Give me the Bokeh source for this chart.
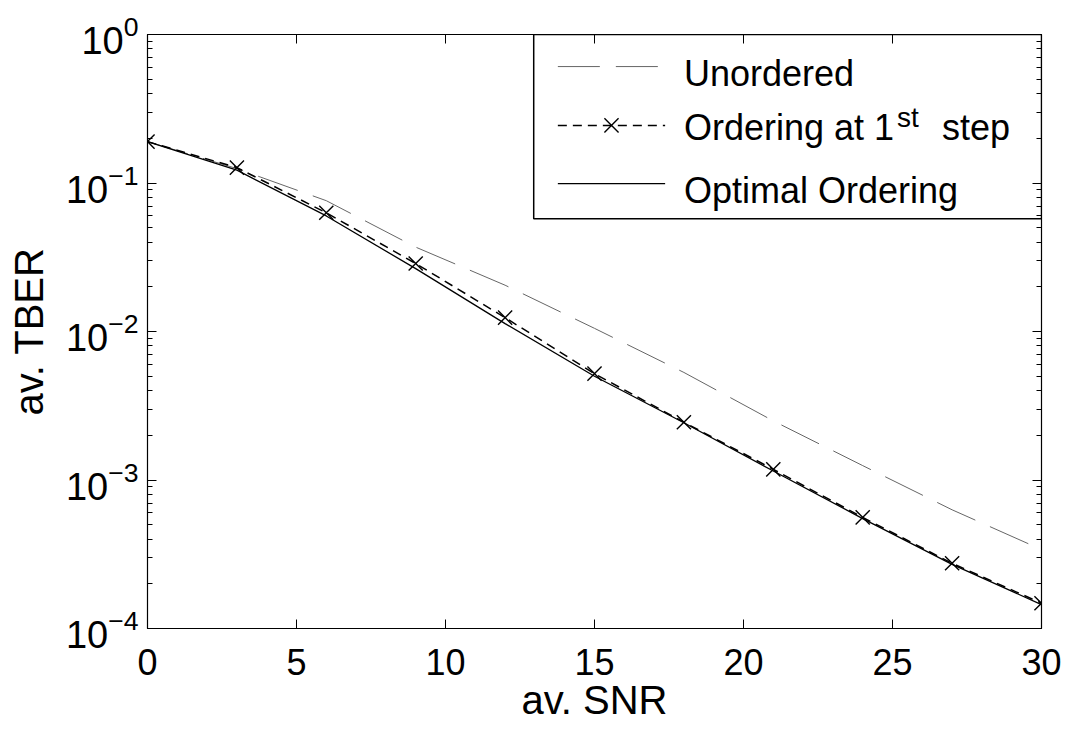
import numpy as np
from bokeh.plotting import figure
from bokeh.models import (Range1d, FixedTicker, LinearAxis, LogAxis, LogTicker,
                          BoxAnnotation, Label, CustomJSTickFormatter)
from bokeh.embed import file_html
from bokeh.resources import INLINE

# Average SNR (dB) at which each scheme was simulated
snr = [0, 3, 6, 9, 12, 15, 18, 21, 24, 27, 30]

# Average total bit error rate for each detection ordering
ber_unordered = [0.19, 0.125, 0.076, 0.037, 0.0205, 0.0105, 0.0053, 0.0025, 0.00125, 0.00063, 0.00034]
ber_first_step = [0.19, 0.127, 0.063, 0.0287, 0.0124, 0.0052, 0.00245, 0.00118, 0.00056, 0.000275, 0.000148]
ber_optimal = [0.19, 0.122, 0.060, 0.0265, 0.0113, 0.0050, 0.00243, 0.00115, 0.00055, 0.00027, 0.000145]

x_ticks = [0, 5, 10, 15, 20, 25, 30]
x_lim = (0, 30)
y_lim = (1e-4, 1)

series_names = ["Unordered", "Ordering at 1", "Optimal Ordering"]

FONT = "Liberation Sans"

p = figure(width=1068, height=733,
           x_range=Range1d(*x_lim), y_range=Range1d(*y_lim),
           y_axis_type="log", output_backend="svg", toolbar_location=None,
           min_border_left=147, min_border_right=27,
           min_border_top=34, min_border_bottom=105,
           background_fill_color="white", border_fill_color="white")
p.grid.visible = False
p.outline_line_color = "black"
p.outline_line_width = 1.2

# bottom / left axes
xa = p.xaxis[0]
xa.ticker = FixedTicker(ticks=x_ticks)
xa.axis_label = "av. SNR"
ya = p.yaxis[0]
ya.ticker = LogTicker(num_minor_ticks=10)
ya.axis_label = "av. TBER"

for ax in (xa, ya):
    ax.axis_line_color = "black"
    ax.major_tick_in = 9
    ax.major_tick_out = 0
    ax.minor_tick_in = 5
    ax.minor_tick_out = 0
    ax.major_tick_line_color = "black"
    ax.minor_tick_line_color = "black"
    ax.major_label_text_font = FONT
    ax.major_label_text_color = "black"
    ax.axis_label_text_font = FONT
    ax.axis_label_text_font_size = "40px"
    ax.axis_label_text_font_style = "normal"
    ax.axis_label_text_color = "black"
xa.major_label_text_font_size = "36px"
ya.major_label_text_font_size = "38px"
xa.major_label_standoff = 20
xa.axis_label_standoff = 0
ya.major_label_standoff = 9
ya.axis_label_standoff = 12

# mirrored tick marks on the top and right edges of the box
blank = CustomJSTickFormatter(code="return ''")
top = LinearAxis(ticker=FixedTicker(ticks=x_ticks), formatter=blank,
                 major_tick_in=9, major_tick_out=0, minor_tick_line_color=None,
                 axis_line_color="black", major_label_standoff=0)
right = LogAxis(ticker=LogTicker(num_minor_ticks=10), formatter=blank,
                major_tick_in=9, major_tick_out=0, minor_tick_in=5, minor_tick_out=0,
                axis_line_color="black", major_label_standoff=0)
p.add_layout(top, "above")
p.add_layout(right, "right")

# curves
p.line(snr, ber_unordered, line_color="#666666", line_width=1.0, line_dash="42 16")
p.line(snr, ber_first_step, line_color="black", line_width=1.5, line_dash="9 6")
p.scatter(snr, ber_first_step, marker="x", size=20, line_color="black", line_width=1.4)
p.line(snr, ber_optimal, line_color="black", line_width=1.3)

# legend, placed by fractions of the plotting frame
def fx(f):
    return x_lim[0] + f * (x_lim[1] - x_lim[0])

def fy(f_from_top):
    lo, hi = np.log10(y_lim[0]), np.log10(y_lim[1])
    return 10 ** (hi - f_from_top * (hi - lo))

p.add_layout(BoxAnnotation(left=fx(0.432), right=fx(1.0), top=fy(0.0), bottom=fy(0.31),
                           fill_color="white", fill_alpha=1.0,
                           line_color="black", line_alpha=1.0, line_width=1.5,
                           level="underlay"))

row_line = [0.054, 0.153, 0.251]
row_text = [0.066, 0.157, 0.262]
sx0, sx1, tx = fx(0.459), fx(0.579), fx(0.600)
styles = [dict(line_color="#666666", line_width=1.0, line_dash="42 16"),
          dict(line_color="black", line_width=1.5, line_dash="9 6"),
          dict(line_color="black", line_width=1.3)]
for i, st in enumerate(styles):
    p.line([sx0, sx1], [fy(row_line[i])] * 2, **st)
    p.add_layout(Label(x=tx, y=fy(row_text[i]), text=series_names[i], text_font=FONT,
                       text_font_size="36px", text_baseline="middle", text_color="black"))
p.scatter([(sx0 + sx1) / 2], [fy(row_line[1])], marker="x", size=20,
          line_color="black", line_width=1.4)
p.add_layout(Label(x=tx, y=fy(row_text[1]), x_offset=213, y_offset=10, text="st",
                   text_font=FONT, text_font_size="28px", text_baseline="middle",
                   text_color="black"))
p.add_layout(Label(x=tx, y=fy(row_text[1]), x_offset=258, text="step",
                   text_font=FONT, text_font_size="36px", text_baseline="middle",
                   text_color="black"))

open("out.html", "w").write(file_html(p, INLINE))
